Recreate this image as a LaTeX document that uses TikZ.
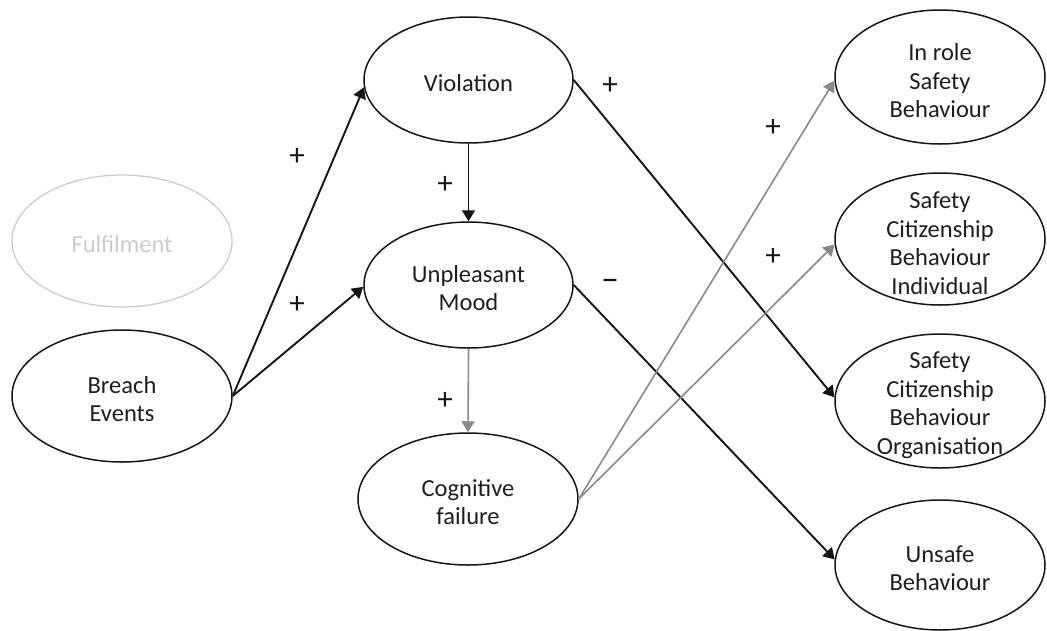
\documentclass[tikz,border=0pt]{standalone}
\usepackage{fontspec}
\setmainfont{Carlito}
\usetikzlibrary{shapes.geometric,arrows.meta}
\definecolor{lnblack}{HTML}{151515}
\definecolor{lngray}{HTML}{8A8A8A}
\definecolor{fadegray}{HTML}{CCCCCC}
\definecolor{txtgray}{HTML}{1E1E1E}
\begin{document}
\begin{tikzpicture}[x=1pt,y=-1pt,
  ell/.style={draw=lnblack,line width=1.5pt,ellipse,inner sep=0pt},
  fadeell/.style={draw=fadegray,line width=1.3pt,ellipse,inner sep=0pt},
  lbl/.style={align=center,text=txtgray,inner sep=0pt,font=\fontsize{24.5}{28.5}\selectfont},
  sign/.style={text=lnblack,inner sep=0pt,font=\fontsize{31}{32}\selectfont},
  blackarrow/.style={draw=lnblack,line width=1.9pt,-{Triangle[length=11pt,width=13pt]}},
  grayarrow/.style={draw=lngray,line width=1.6pt,-{Triangle[length=11pt,width=13pt]}}
]
\useasboundingbox (0,0) rectangle (1047,630);

% ellipses
\node[fadeell,minimum width=220pt,minimum height=132pt] (ful) at (122,241) {};
\node[ell,minimum width=220pt,minimum height=132pt] (bre) at (122,396) {};
\node[ell,minimum width=209pt,minimum height=126pt] (vio) at (468.5,80) {};
\node[ell,minimum width=209pt,minimum height=126pt] (moo) at (468.5,285) {};
\node[ell,minimum width=220pt,minimum height=132pt] (cog) at (468,499) {};
\node[ell,minimum width=210pt,minimum height=134pt] (inr) at (940,77) {};
\node[ell,minimum width=210pt,minimum height=132pt] (sci) at (940,239) {};
\node[ell,minimum width=210pt,minimum height=134pt] (sco) at (940,401) {};
\node[ell,minimum width=210pt,minimum height=130pt] (uns) at (940,565) {};

% labels
\node[lbl,text=fadegray] (tful) at (122,244) {Fulfilment};
\node[lbl] (tbre) at (122,399) {Breach\\Events};
\node[lbl] (tvio) at (468.5,83) {Violation};
\node[lbl] (tmoo) at (468.5,288) {Unpleasant\\Mood};
\node[lbl] (tcog) at (468,502) {Cognitive\\failure};
\node[lbl] (tinr) at (940,81) {In role\\Safety\\Behaviour};
\node[lbl] (tsci) at (940,243) {Safety\\Citizenship\\Behaviour\\Individual};
\node[lbl] (tsco) at (940,405) {Safety\\Citizenship\\Behaviour\\Organisation};
\node[lbl] (tuns) at (940,568) {Unsafe\\Behaviour};

% connectors
\draw[blackarrow] (bre.east) -- (vio.184);
\draw[blackarrow] (bre.east) -- (moo.181);
\draw[blackarrow] (vio.south) -- (moo.north);
\draw[grayarrow] (moo.south) -- (cog.north);
\draw[blackarrow] (vio.east) -- (sco.178);
\draw[blackarrow] (moo.east) -- (uns.177);
\draw[grayarrow] (cog.east) -- (inr.182);
\draw[grayarrow] (cog.east) -- (sci.183);

% signs
\node[sign] (s1) at (297,157) {+};
\node[sign] (s2) at (297,305) {+};
\node[sign] (s3) at (445,185) {+};
\node[sign] (s4) at (445,401) {+};
\node[sign] (s5) at (610,86) {+};
\node[sign,font=\fontsize{36}{38}\selectfont] (s6) at (610,285) {\textendash};
\node[sign] (s7) at (773,128) {+};
\node[sign] (s8) at (773,257) {+};
\end{tikzpicture}
\end{document}
